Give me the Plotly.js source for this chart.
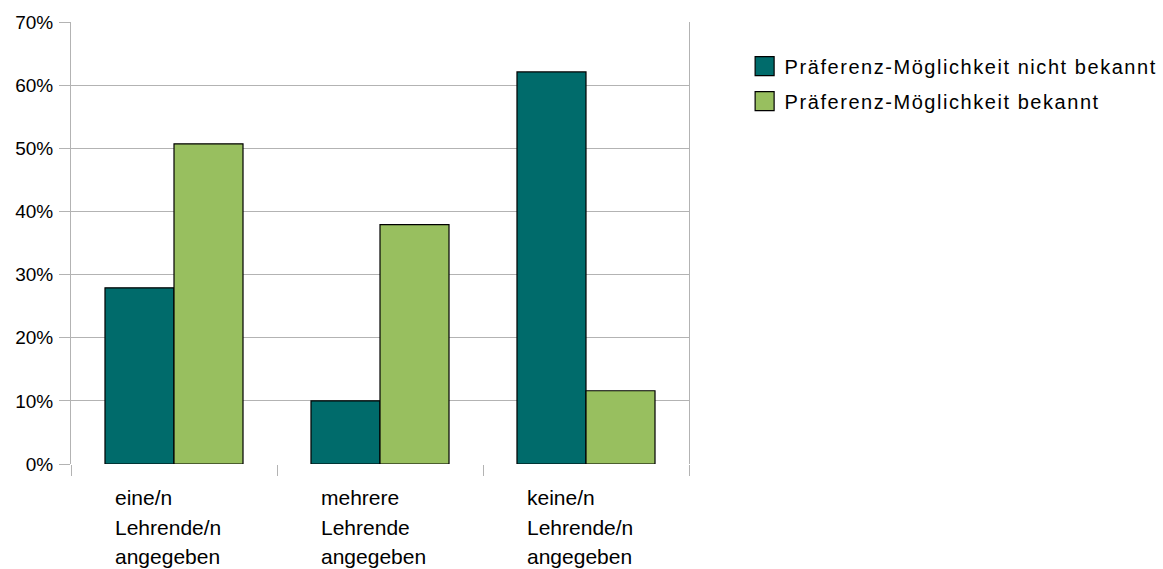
<!DOCTYPE html>
<html>
<head>
<meta charset="utf-8">
<script src="https://cdn.plot.ly/plotly-3.0.1.min.js"></script>
<style>
  html, body { margin: 0; padding: 0; background: #fff; }
  #chart { width: 1163px; height: 569px; }
  .legendtext { letter-spacing: 1.55px; }
</style>
</head>
<body>
<div id="chart"></div>
<script>
const categories = ["eine/n Lehrende/n angegeben", "mehrere Lehrende angegeben", "keine/n Lehrende/n angegeben"];
const categoryLabelLines = [
  ["eine/n", "Lehrende/n", "angegeben"],
  ["mehrere", "Lehrende", "angegeben"],
  ["keine/n", "Lehrende/n", "angegeben"]
];
const seriesNames = ["Präferenz-Möglichkeit nicht bekannt", "Präferenz-Möglichkeit bekannt"];
const nichtBekannt = [0.279, 0.100, 0.621];
const bekannt = [0.507, 0.379, 0.116];
const yTickVals = [0, 0.1, 0.2, 0.3, 0.4, 0.5, 0.6, 0.7];

const FONT = "'Liberation Sans', Arial, sans-serif";
const GRID = "#b3b3b3";
const BARGAP = 0.33;
const LINE_STEP = 29.5;

const traces = [
  { type: "bar", name: seriesNames[0], x: categories, y: nichtBekannt, legendgroup: "a",
    marker: { color: "#006b6b", line: { color: "#000", width: 1.2 } }, hoverinfo: "y" },
  { type: "bar", name: seriesNames[1], x: categories, y: bekannt, legendgroup: "b",
    marker: { color: "#98bf5f", line: { color: "#000", width: 1.2 } }, hoverinfo: "y" }
];

const annotations = [];
categoryLabelLines.forEach((lines, i) => {
  lines.forEach((line, k) => {
    annotations.push({
      x: i - (1 - BARGAP) / 2, xref: "x", xanchor: "left", xshift: 8,
      y: 0, yref: "paper", yanchor: "top", yshift: -20 - k * LINE_STEP,
      text: line, showarrow: false, align: "left",
      font: { family: FONT, size: 21, color: "#000" }
    });
  });
});

const layout = {
  width: 1163, height: 569,
  margin: { l: 71, r: 474, t: 22, b: 105, autoexpand: false },
  paper_bgcolor: "#fff", plot_bgcolor: "#fff",
  barmode: "group", bargap: BARGAP, bargroupgap: 0,
  font: { family: FONT, size: 19, color: "#000" },
  xaxis: {
    type: "category", showticklabels: false, showgrid: false,
    tickson: "boundaries", ticks: "outside", ticklen: 11, tickcolor: GRID, tickwidth: 1,
    showline: false, zeroline: false, range: [-0.5, 2.5]
  },
  yaxis: {
    range: [0, 0.7], tickvals: yTickVals, tickformat: ".0%",
    showgrid: true, gridcolor: GRID, gridwidth: 1,
    ticks: "outside", ticklen: 11, tickcolor: GRID, tickwidth: 1,
    showline: true, linecolor: GRID, linewidth: 1, mirror: true,
    zeroline: false, ticklabelstandoff: 2,
    tickfont: { family: FONT, size: 19, color: "#000" }
  },
  showlegend: true,
  legend: {
    x: 1.0900, xanchor: "left", y: 0.9445, yanchor: "top",
    traceorder: "grouped", tracegroupgap: 6,
    font: { family: FONT, size: 20, color: "#000" },
    bgcolor: "rgba(0,0,0,0)"
  },
  annotations: annotations
};

Plotly.newPlot("chart", traces, layout, { displayModeBar: false, staticPlot: true }).then(gd => {
  // enlarge the legend swatches to the reference's square size
  gd.querySelectorAll(".legend .legendpoints path").forEach(p => {
    p.setAttribute("d", "M9.5,9.5H-9.5V-9.5H9.5Z");
  });
});
</script>
</body>
</html>
